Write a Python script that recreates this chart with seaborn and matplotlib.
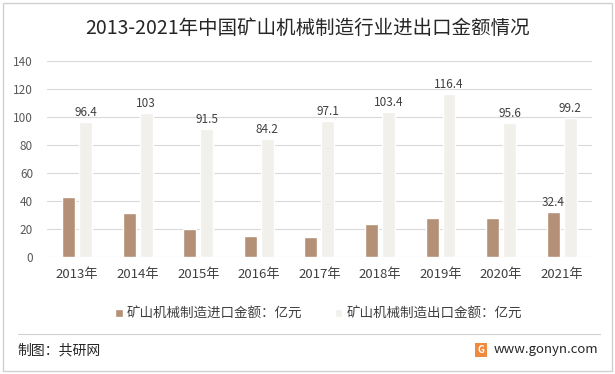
import matplotlib.pyplot as plt
import seaborn as sns
import pandas as pd
from matplotlib.patches import Rectangle
from matplotlib.lines import Line2D

years = ['2013年', '2014年', '2015年', '2016年', '2017年', '2018年', '2019年', '2020年', '2021年']
import_values = [43, 31.5, 20, 15.2, 14.5, 23.7, 28, 28, 32.4]
export_values = [96.4, 103, 91.5, 84.2, 97.1, 103.4, 116.4, 95.6, 99.2]
series_names = ['矿山机械制造进口金额：亿元', '矿山机械制造出口金额：亿元']
colors = ['#BD8E6C', '#F3F0E9']

df = pd.DataFrame({
    'year': years * 2,
    'value': import_values + export_values,
    'series': [series_names[0]] * len(years) + [series_names[1]] * len(years),
})

sns.set_style('white')
plt.rcParams['font.family'] = ['Noto Sans CJK SC', 'DejaVu Sans']

fig = plt.figure(figsize=(6.15, 3.74), dpi=100)
ax = fig.add_axes([0.0764, 0.3128, 0.886, 0.525])

sns.barplot(
    data=df,
    x='year',
    y='value',
    hue='series',
    order=years,
    hue_order=series_names,
    palette=colors,
    width=0.56,
    gap=0.235,
    ax=ax,
)

ax.set_ylim(0, 140)
ax.set_yticks(range(0, 141, 20))
ax.grid(axis='y', color='#D9D9D9', linewidth=0.8)
ax.set_axisbelow(True)
for s in ax.spines.values():
    s.set_visible(False)
ax.tick_params(axis='y', length=0, labelsize=8.5, labelcolor='#595959', pad=10)
ax.tick_params(axis='x', length=0, labelsize=9.5, labelcolor='#404040', pad=8)
ax.set_xlabel('')
ax.set_ylabel('')

# data labels: all exports, only the last import
imp_bars, exp_bars = ax.containers[0], ax.containers[1]
ax.bar_label(exp_bars, labels=[f'{v:g}' for v in export_values], padding=2,
             fontsize=8.5, color='#404040')
ax.bar_label(imp_bars, labels=[''] * (len(years) - 1) + [f'{import_values[-1]:g}'],
             padding=2, fontsize=8.5, color='#404040')

ax.legend(loc='center', ncol=2, frameon=False,
          fontsize=9.75, handlelength=0.55, handleheight=0.55, handletextpad=0.3,
          columnspacing=2.4, labelcolor='#404040')
leg = ax.get_legend()
leg.set_bbox_to_anchor((0.518, 1 - 314 / 374), transform=fig.transFigure)

fig.text(0.5, 1 - 28.5 / 374, '2013-2021年中国矿山机械制造行业进出口金额情况', ha='center', va='center',
         fontsize=14, color='#262626')

# frame and footer
fig.patches.append(Rectangle((0.005, 0.008), 0.99, 0.984, transform=fig.transFigure,
                             fill=False, edgecolor='#D0D0D0', linewidth=1))
fig.lines.append(Line2D([0.03, 0.975], [1 - 334 / 374] * 2, transform=fig.transFigure,
                        color='#D0D0D0', linewidth=0.8))
fig.text(0.028, 1 - 350 / 374, '制图：共研网', ha='left', va='center', fontsize=10, color='#262626')
fig.text(0.973, 1 - 350 / 374, 'www.gonyn.com', ha='right', va='center', fontsize=9.5, color='#262626')
fig.patches.append(Rectangle((475 / 615, 1 - 357 / 374), 12 / 615, 14 / 374, transform=fig.transFigure,
                             facecolor='#F08A3C', edgecolor='none'))
fig.text(481 / 615, 1 - 350 / 374, 'G', ha='center', va='center', fontsize=7, color='white',
         fontweight='bold')

fig.savefig('out.png', dpi=100)
